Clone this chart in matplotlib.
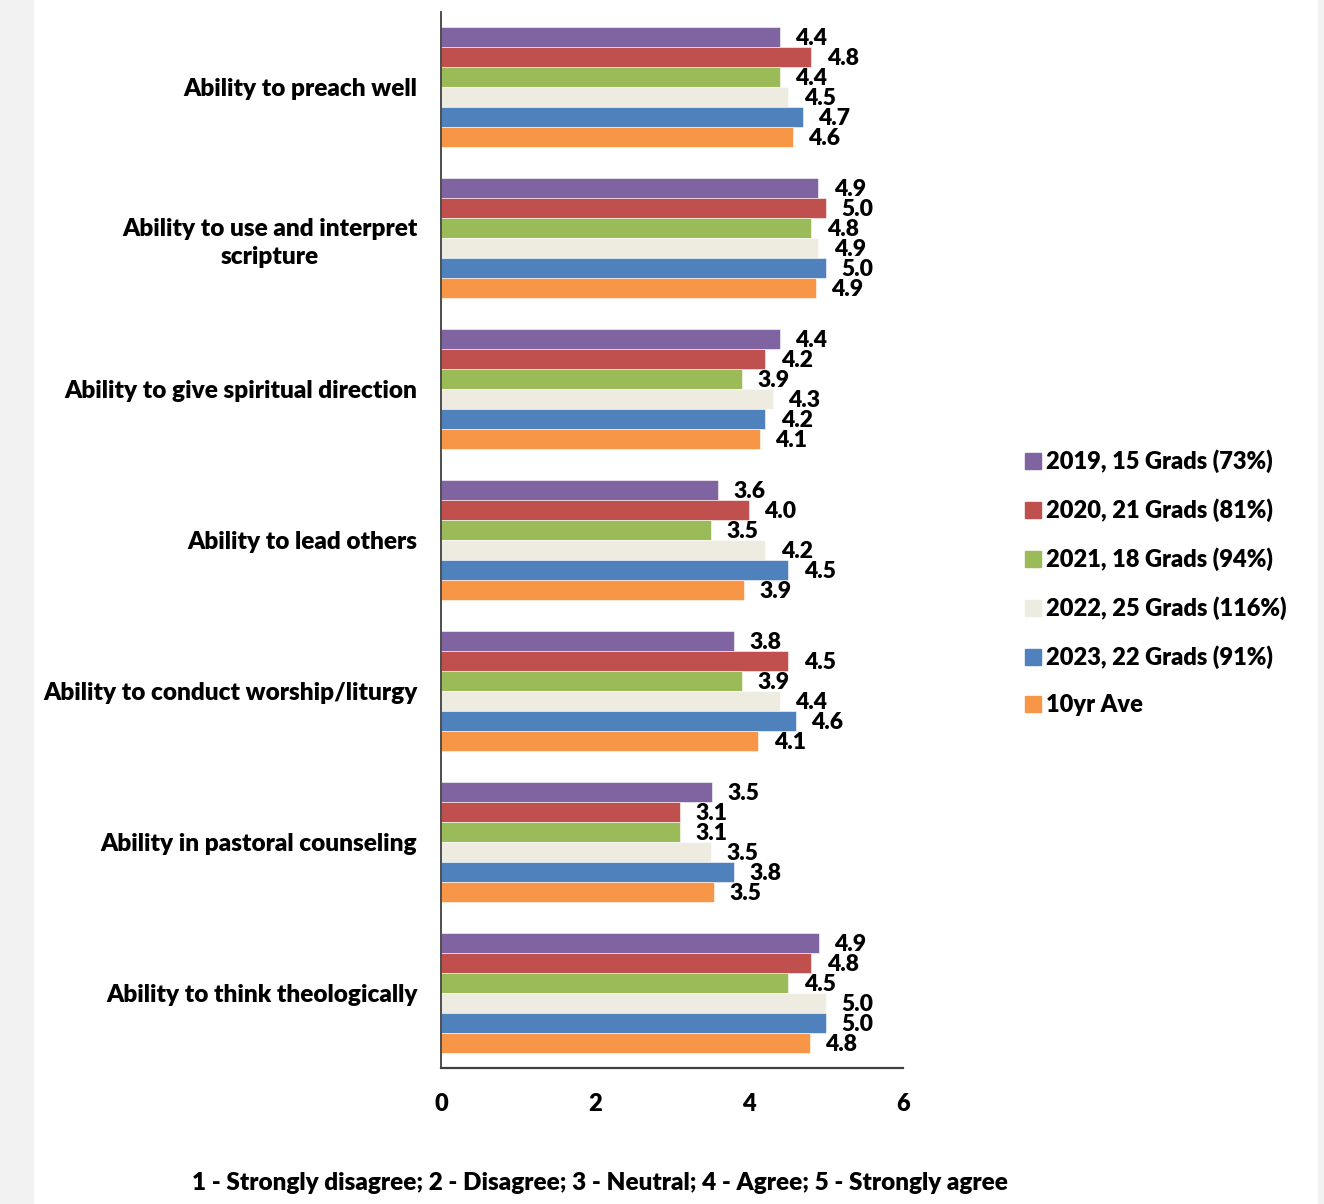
import matplotlib
matplotlib.use("Agg")
import matplotlib.pyplot as plt
from matplotlib.lines import Line2D
from matplotlib.patches import Rectangle
import numpy as np

plt.rcParams['font.family'] = ['Lato', 'DejaVu Sans']
plt.rcParams['font.weight'] = 'heavy'

categories = [
    "Ability to preach well",
    "Ability to use and interpret\nscripture",
    "Ability to give spiritual direction",
    "Ability to lead others",
    "Ability to conduct worship/liturgy",
    "Ability in pastoral counseling",
    "Ability to think theologically",
]
series_names = [
    "2019, 15 Grads (73%)",
    "2020, 21 Grads (81%)",
    "2021, 18 Grads (94%)",
    "2022, 25 Grads (116%)",
    "2023, 22 Grads (91%)",
    "10yr Ave",
]
v2019 = [4.40, 4.90, 4.40, 3.60, 3.81, 3.52, 4.91]
v2020 = [4.81, 5.00, 4.21, 4.00, 4.51, 3.11, 4.81]
v2021 = [4.40, 4.81, 3.91, 3.51, 3.91, 3.11, 4.51]
v2022 = [4.51, 4.90, 4.31, 4.21, 4.40, 3.51, 5.00]
v2023 = [4.70, 5.00, 4.21, 4.51, 4.61, 3.81, 5.00]
v10yr = [4.57, 4.87, 4.14, 3.94, 4.12, 3.54, 4.79]
series = [v2019, v2020, v2021, v2022, v2023, v10yr]
colors = ["#8064A2", "#C0504D", "#9BBB59", "#EEECE1", "#4F81BD", "#F79646"]
xticks = [0, 2, 4, 6]
footnote = "1 - Strongly disagree; 2 - Disagree; 3 - Neutral; 4 - Agree; 5 - Strongly agree"

W, H = 1324, 1204
fig = plt.figure(figsize=(W / 100, H / 100), dpi=100)
fig.patches.append(Rectangle((0, 0), 33 / W, 1, transform=fig.transFigure, color="#F2F2F2", zorder=-10))
fig.patches.append(Rectangle((1318 / W, 0), 6 / W, 1, transform=fig.transFigure, color="#F2F2F2", zorder=-10))

ax = fig.add_axes([441 / W, 1 - 1068 / H, (903 - 441) / W, (1068 - 12) / H])
n = len(series)
bh = 0.1325
y = np.arange(len(categories))
for i, (vals, c) in enumerate(zip(series, colors)):
    pos = y - (n / 2 - 0.5) * bh + i * bh
    ax.barh(pos, vals, height=bh, color=c, edgecolor="white", linewidth=0.4)
    for p, v in zip(pos, vals):
        ax.text(v + 0.2, p + 0.01, f"{v:.1f}", va="center", ha="left", fontsize=16.5, fontweight="heavy")

ax.set_ylim(len(categories) - 0.5, -0.5)
ax.set_xlim(0, 6)
ax.set_xticks(xticks)
ax.set_xticklabels([str(t) for t in xticks], fontsize=17, fontweight="heavy")
ax.set_yticks(y)
ax.set_yticklabels(categories, fontsize=17.6, fontweight="heavy", ha="right", linespacing=1.3)
for lab in ax.get_yticklabels():
    lab.set_multialignment("center")
ax.tick_params(axis="x", length=0, pad=18)
ax.tick_params(axis="y", length=0, pad=17)
for s in ["top", "right"]:
    ax.spines[s].set_visible(False)
ax.spines["left"].set_color("#404040")
ax.spines["bottom"].set_color("#404040")
ax.spines["left"].set_linewidth(1.3)
ax.spines["bottom"].set_linewidth(1.6)

handles = [Line2D([], [], marker="s", linestyle="none", markersize=11, color=c,
                  markeredgecolor=c) for c in colors]
fig.legend(handles, series_names, loc="upper left", bbox_to_anchor=(1012 / W, 1 - 440 / H),
           frameon=False, prop={"size": 17, "weight": "heavy"}, labelspacing=1.07,
           handletextpad=0.05, handlelength=1.0, borderaxespad=0)

fig.text(600 / W, 1 - 1183 / H, footnote, ha="center", va="center", fontsize=17.5, fontweight="heavy")

fig.savefig("out.png", dpi=100, facecolor="white")
